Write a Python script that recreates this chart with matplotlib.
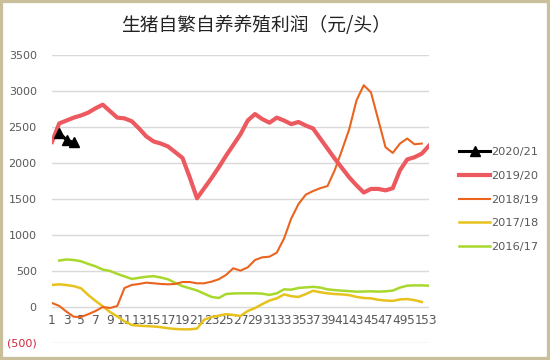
import numpy as np
import matplotlib
matplotlib.use('Agg')
import matplotlib.pyplot as plt
from matplotlib.patches import Rectangle

plt.rcParams['font.family'] = ['Noto Sans CJK SC', 'DejaVu Sans']

# week numbers and series values (yuan per head)
weeks = list(range(1, 54))
nan = np.nan

s2020 = [nan, 2420, 2320, 2285] + [nan] * 49

s2019 = [2293, 2550, 2590, 2630, 2660, 2700, 2760, 2810, 2720, 2630,
         2620, 2580, 2480, 2370, 2300, 2270, 2230, 2150, 2070, 1800,
         1510, 1650, 1790, 1940, 2100, 2250, 2400, 2590, 2680, 2610,
         2560, 2630, 2590, 2540, 2570, 2520, 2480, 2340, 2200, 2060,
         1930, 1800, 1690, 1590, 1640, 1640, 1620, 1650, 1900, 2050,
         2080, 2130, 2240]

s2018 = [56, 15, -65, -135, -140, -100, -56, 0, -14, 14,
         264, 306, 320, 338, 330, 320, 315, 320, 347, 347,
         329, 329, 352, 385, 445, 538, 505, 551, 653, 690,
         699, 755, 950, 1230, 1430, 1560, 1610, 1650, 1680, 1900,
         2180, 2470, 2870, 3080, 2980, 2600, 2220, 2140, 2270, 2340,
         2260, 2270, nan]

s2017 = [306, 315, 305, 290, 260, 167, 85, 10, -70, -130,
         -200, -250, -260, -265, -270, -280, -295, -305, -310, -310,
         -300, -175, -140, -120, -100, -110, -125, -55, -15, 40,
         90, 120, 175, 150, 140, 180, 225, 205, 190, 180,
         175, 165, 140, 125, 120, 100, 90, 85, 105, 110,
         95, 70, nan]

s2016 = [nan, 645, 660, 653, 635, 598, 565, 520, 500, 460,
         425, 390, 405, 420, 428, 410, 385, 335, 290, 260,
         230, 185, 140, 125, 180, 188, 190, 190, 190, 185,
         168, 190, 245, 240, 265, 272, 280, 270, 245, 235,
         227, 220, 213, 215, 218, 213, 218, 228, 270, 296,
         300, 300, 296]

labels = ['2020/21', '2019/20', '2018/19', '2017/18', '2016/17']
yticks = [-500, 0, 500, 1000, 1500, 2000, 2500, 3000, 3500]

fig = plt.figure(figsize=(5.5, 3.6), dpi=100)
ax = fig.add_axes([52 / 550, 17 / 360, 377 / 550, 288 / 360])

ax.plot(weeks, s2020, color='black', lw=2.2, marker='^', ms=6.5, label=labels[0], zorder=6)
ax.plot(weeks, s2019, color='#EC5A60', lw=3, label=labels[1], zorder=5)
ax.plot(weeks, s2018, color='#EA6420', lw=1.5, label=labels[2], zorder=4)
ax.plot(weeks, s2017, color='#E8C21C', lw=1.8, label=labels[3], zorder=3)
ax.plot(weeks, s2016, color='#A8D82C', lw=1.8, label=labels[4], zorder=2)

ax.set_xlim(1, 53)
ax.set_ylim(-500, 3500)
ax.set_yticks(yticks)
ax.set_yticklabels(['(500)' if v < 0 else str(v) for v in yticks])
ax.set_xticks(weeks[::2])
ax.set_xticklabels([str(w) for w in weeks[::2]])

ax.grid(axis='y', color='#D9D9D9', lw=1)
ax.set_axisbelow(True)
for side in ['top', 'right', 'left', 'bottom']:
    ax.spines[side].set_visible(False)
ax.spines['bottom'].set_position(('data', 0))
ax.tick_params(axis='both', length=0, colors='#595959')
ax.tick_params(axis='y', pad=11, labelsize=8)
ax.tick_params(axis='x', pad=5, labelsize=8.8)
for t in ax.get_xticklabels() + ax.get_yticklabels():
    t.set_family('DejaVu Sans')
ax.get_yticklabels()[0].set_color('#D0253C')

leg = ax.legend(loc='upper left', bbox_to_anchor=(449 / 550, 1 - 137 / 360),
                bbox_transform=fig.transFigure, frameon=False, fontsize=8.2,
                handlelength=2.7, handletextpad=0.1, labelspacing=1.2,
                labelcolor='#595959')
for t in leg.get_texts():
    t.set_family('DejaVu Sans')

fig.text(256 / 550, 1 - 25 / 360, '生猪自繁自养养殖利润（元/头）', ha='center', va='center',
         fontsize=13.5, color='#222222')

fig.patches.append(Rectangle((0, 0), 1, 1, transform=fig.transFigure, fill=False,
                             ec='#C9BF9A', lw=4.5))

plt.savefig('out.png', dpi=100)
